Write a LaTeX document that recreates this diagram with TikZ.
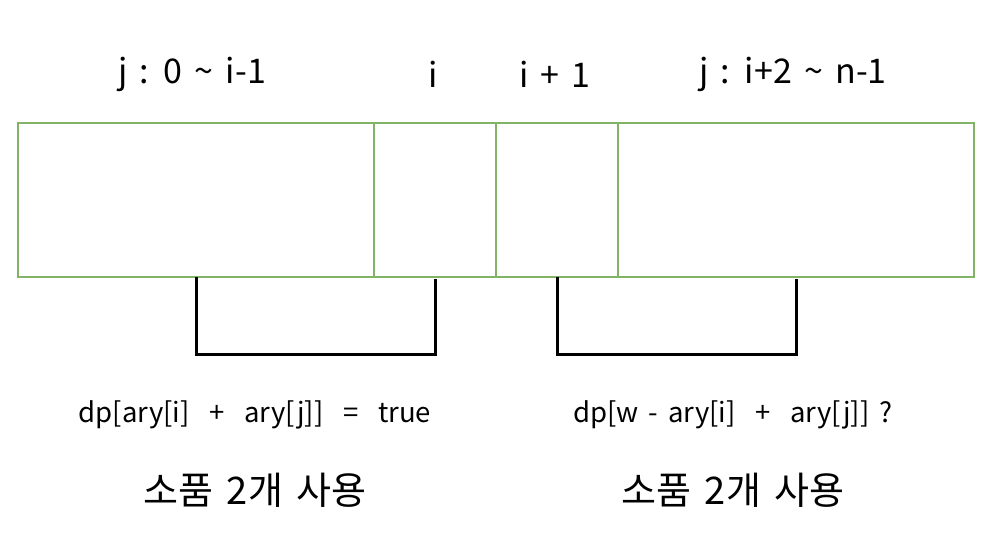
\documentclass[tikz,border=0pt]{standalone}
\usepackage{fontspec}
\setmainfont{Noto Sans CJK KR}[WordSpace=1.6]
\definecolor{cellgreen}{HTML}{82B366}
\tikzset{
  x=1pt, y=-1pt,
  cell/.style={draw=cellgreen, line width=1.5pt, anchor=north west, inner sep=0pt, minimum height=154pt},
  toplabel/.style={font=\fontsize{34}{40}\selectfont, inner sep=0pt},
  formula/.style={font=\fontsize{27.5}{32}\selectfont, inner sep=0pt},
  korean/.style={font=\fontsize{38}{44}\selectfont, inner sep=0pt},
  bracket/.style={draw=black, line width=3pt}
}
\begin{document}
\begin{tikzpicture}
\useasboundingbox (0,0) rectangle (991,543);
\fill[white] (0,0) rectangle (991,543);
\node[cell, minimum width=356pt] (c1) at (17,122) {};
\node[cell, minimum width=122pt] (c2) at (373,122) {};
\node[cell, minimum width=122pt] (c3) at (495,122) {};
\node[cell, minimum width=356pt] (c4) at (617,122) {};

\node[toplabel] (t1) at (192,74) {j : 0 \textasciitilde{} i-1};
\node[toplabel] (t2) at (433,74) {i};
\node[toplabel] (t3) at (555,74) {i + 1};
\node[toplabel] (t4) at (793,74) {j : i+2 \textasciitilde{} n-1};

\coordinate (b1s) at (196,277);
\coordinate (b1e) at (435,279);
\coordinate (b2s) at (557,277);
\coordinate (b2e) at (796,279);
\draw[bracket] (b1s) |- (435,354) -- (b1e);
\draw[bracket] (b2s) |- (796,354) -- (b2e);

\node[formula] (f1) at (255,415) {dp[ary[i]\ \ +\ \ ary[j]]\ \ =\ \ true};
\node[formula] (f2) at (733,415) {dp[w - ary[i]\ \ +\ \ ary[j]]\ ?};
\node[korean] (k1) at (255,490) {소품 2개 사용};
\node[korean] (k2) at (733,490) {소품 2개 사용};
\end{tikzpicture}
\end{document}
